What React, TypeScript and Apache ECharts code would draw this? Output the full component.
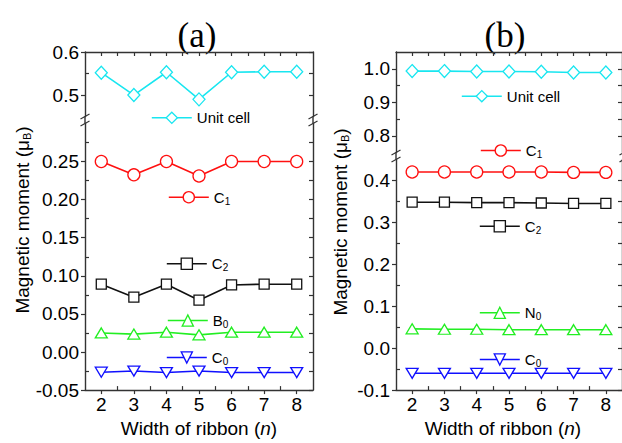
import React, { useEffect, useRef } from "react";
import * as echarts from "echarts";

// ---------- data ----------
const widths = [2, 3, 4, 5, 6, 7, 8];
const xTicks = [2, 3, 4, 5, 6, 7, 8];
const xMinorTicks = [2.5, 3.5, 4.5, 5.5, 6.5, 7.5];

// panel (a)
const aUnitCell = [0.552, 0.5, 0.553, 0.49, 0.553, 0.554, 0.554];
const aC1 = [0.25, 0.2325, 0.25, 0.231, 0.25, 0.25, 0.25];
const aC2 = [0.089, 0.072, 0.089, 0.068, 0.088, 0.089, 0.089];
const aB0 = [0.025, 0.0235, 0.026, 0.0225, 0.026, 0.026, 0.026];
const aC0 = [-0.0265, -0.025, -0.027, -0.025, -0.027, -0.027, -0.027];

// panel (b)
const bUnitCell = [0.993, 0.993, 0.992, 0.992, 0.991, 0.989, 0.989];
const bC1 = [0.42, 0.42, 0.42, 0.42, 0.42, 0.419, 0.419];
const bC2 = [0.348, 0.348, 0.347, 0.347, 0.346, 0.345, 0.345];
const bN0 = [0.046, 0.045, 0.045, 0.044, 0.044, 0.044, 0.044];
const bC0 = [-0.06, -0.06, -0.06, -0.06, -0.06, -0.06, -0.06];

// y tick labels
const aUpperTicks = [0.5, 0.6];
const aUpperMinor = [0.55];
const aLowerTicks = [-0.05, 0, 0.05, 0.1, 0.15, 0.2, 0.25];
const aLowerMinor = [-0.025, 0.025, 0.075, 0.125, 0.175, 0.225, 0.275];
const bUpperTicks = [0.8, 0.9, 1.0];
const bUpperMinor = [0.85, 0.95];
const bLowerTicks = [-0.1, 0, 0.1, 0.2, 0.3, 0.4];
const bLowerMinor = [-0.05, 0.05, 0.15, 0.25, 0.35];

const legendLabels: Record<string, string> = {
  "a|Unit cell": "Unit cell",
  "a|C1": "C{sub|1}",
  "a|C2": "C{sub|2}",
  "a|B0": "B{sub|0}",
  "a|C0": "C{sub|0}",
  "b|Unit cell": "Unit cell",
  "b|C1": "C{sub|1}",
  "b|C2": "C{sub|2}",
  "b|N0": "N{sub|0}",
  "b|C0": "C{sub|0}",
};

// ---------- styles ----------
const FONT = "'Liberation Sans', Arial, sans-serif";
const SERIF = "'Liberation Serif', 'Times New Roman', serif";
const AXIS = "#333";
const CYAN = "#18E6F0";
const RED = "#FF1010";
const BLACK = "#111";
const GREEN = "#22EE22";
const BLUE = "#1010FF";

type GridSpec = {
  left: number;
  top: number;
  width: number;
  height: number;
  yMin: number;
  yMax: number;
  yTicks: number[];
  yMinor: number[];
  dec: number;
  lower: boolean;
  xName?: boolean;
  namePad?: number;
};

const grids: GridSpec[] = [
  { left: 85, top: 52, width: 228, height: 64.6, yMin: 0.45, yMax: 0.6, yTicks: aUpperTicks, yMinor: aUpperMinor, dec: 1, lower: false },
  { left: 85, top: 123.4, width: 228, height: 272.6, yMin: -0.05, yMax: 0.3, yTicks: aLowerTicks, yMinor: aLowerMinor, dec: 2, lower: true, xName: true, namePad: 0 },
  { left: 396, top: 52, width: 228, height: 100.5, yMin: 0.75, yMax: 1.05, yTicks: bUpperTicks, yMinor: bUpperMinor, dec: 1, lower: false },
  { left: 396, top: 159.4, width: 228, height: 237.6, yMin: -0.1, yMax: 0.45, yTicks: bLowerTicks, yMinor: bLowerMinor, dec: 1, lower: true, xName: true, namePad: 12 },
];

const lineW = 1.4;
const TICK_FS = 19;

function buildAxes() {
  const xAxis: any[] = [];
  const yAxis: any[] = [];
  grids.forEach((g, gi) => {
    const tickStyle = { color: AXIS, width: 1.2 };
    xAxis.push({
      type: "value",
      gridIndex: gi,
      min: 1.5,
      max: 8.5,
      position: "bottom",
      show: g.lower,
      axisLine: { show: true, onZero: false, lineStyle: { color: AXIS, width: lineW } },
      axisTick: { show: true, inside: false, length: 4, customValues: xTicks, lineStyle: tickStyle },
      axisLabel: {
        show: true,
        customValues: xTicks,
        margin: 5,
        fontSize: TICK_FS,
        fontFamily: FONT,
        color: "#000",
        formatter: (v: number) => String(v),
      },
      splitLine: { show: false },
      name: g.xName ? "Width of ribbon ({it|n})" : "",
      nameLocation: "middle",
      nameGap: 22,
      nameTextStyle: {
        fontSize: 19,
        fontFamily: FONT,
        color: "#000",
        padding: [0, g.namePad || 0, 0, 0],
        rich: { it: { fontSize: 19, fontFamily: FONT, fontStyle: "italic", color: "#000" } },
      },
    });
    xAxis.push({
      type: "value",
      gridIndex: gi,
      min: 1.5,
      max: 8.5,
      position: "bottom",
      show: g.lower,
      axisLine: { show: false, onZero: false },
      axisTick: { show: true, inside: true, length: 4, customValues: xMinorTicks, lineStyle: tickStyle },
      axisLabel: { show: false },
      splitLine: { show: false },
    });
    xAxis.push({
      type: "value",
      gridIndex: gi,
      min: 1.5,
      max: 8.5,
      position: "top",
      show: !g.lower,
      axisLine: { show: true, onZero: false, lineStyle: { color: AXIS, width: lineW } },
      axisTick: { show: true, inside: true, length: 4, customValues: [...xTicks, ...xMinorTicks], lineStyle: tickStyle },
      axisLabel: { show: false },
      splitLine: { show: false },
    });

    yAxis.push({
      type: "value",
      gridIndex: gi,
      min: g.yMin,
      max: g.yMax,
      position: "left",
      axisLine: { show: true, onZero: false, lineStyle: { color: AXIS, width: lineW } },
      axisTick: { show: true, inside: false, length: 4, customValues: g.yTicks, lineStyle: tickStyle },
      axisLabel: {
        show: true,
        customValues: g.yTicks,
        margin: 6,
        fontSize: TICK_FS,
        fontFamily: FONT,
        color: "#000",
        formatter: (v: number) => v.toFixed(g.dec),
      },
      splitLine: { show: false },
    });
    yAxis.push({
      type: "value",
      gridIndex: gi,
      min: g.yMin,
      max: g.yMax,
      position: "left",
      axisLine: { show: false, onZero: false },
      axisTick: { show: true, inside: true, length: 4, customValues: g.yMinor, lineStyle: tickStyle },
      axisLabel: { show: false },
      splitLine: { show: false },
    });
    yAxis.push({
      type: "value",
      gridIndex: gi,
      min: g.yMin,
      max: g.yMax,
      position: "right",
      axisLine: { show: true, onZero: false, lineStyle: { color: AXIS, width: lineW } },
      axisTick: { show: true, inside: true, length: 4, customValues: [...g.yTicks, ...g.yMinor], lineStyle: tickStyle },
      axisLabel: { show: false },
      splitLine: { show: false },
    });
  });
  return { xAxis, yAxis };
}

function mkSeries(name: string, values: number[], gi: number, color: string, symbol: string, size: any, rotate = 0) {
  return {
    type: "line",
    name,
    xAxisIndex: gi * 3,
    yAxisIndex: gi * 3,
    data: widths.map((w, i) => [w, values[i]]),
    symbol,
    symbolSize: size,
    symbolRotate: rotate,
    showSymbol: true,
    lineStyle: { color, width: 1.6 },
    itemStyle: { color: "#fff", borderColor: color, borderWidth: 1.3 },
    emphasis: { disabled: true },
    silent: true,
  };
}

const legendPos: { name: string; left: number; cy: number }[] = [
  { name: "a|Unit cell", left: 151, cy: 118.3 },
  { name: "a|C1", left: 168, cy: 197.7 },
  { name: "a|C2", left: 166, cy: 264.3 },
  { name: "a|B0", left: 167, cy: 321 },
  { name: "a|C0", left: 166, cy: 358 },
  { name: "b|Unit cell", left: 461, cy: 96.7 },
  { name: "b|C1", left: 480, cy: 151 },
  { name: "b|C2", left: 479, cy: 226.7 },
  { name: "b|N0", left: 479, cy: 313.3 },
  { name: "b|C0", left: 479, cy: 360 },
];

function breakMarks(x: number, y1: number, y2: number) {
  const s = { stroke: AXIS, lineWidth: 1.2 };
  return [
    { type: "line", shape: { x1: x, y1: y1, x2: x, y2: y2 }, style: { stroke: AXIS, lineWidth: lineW }, silent: true },
    { type: "line", shape: { x1: x - 4.5, y1: y1 + 2.5, x2: x + 4.5, y2: y1 - 2.5 }, style: s, silent: true },
    { type: "line", shape: { x1: x - 4.5, y1: y2 + 2.5, x2: x + 4.5, y2: y2 - 2.5 }, style: s, silent: true },
  ];
}

export default function App() {
  const ref = useRef<HTMLDivElement>(null);
  useEffect(() => {
    if (!ref.current) return;
    const chart = echarts.init(ref.current, undefined, { renderer: "svg" });
    const { xAxis, yAxis } = buildAxes();
    const series = [
      mkSeries("a|Unit cell", aUnitCell, 0, CYAN, "diamond", [12, 13]),
      mkSeries("a|C1", aC1, 1, RED, "circle", 12),
      mkSeries("a|C2", aC2, 1, BLACK, "rect", 10),
      mkSeries("a|B0", aB0, 1, GREEN, "triangle", [12, 10]),
      mkSeries("a|C0", aC0, 1, BLUE, "triangle", [12, 10], 180),
      mkSeries("b|Unit cell", bUnitCell, 2, CYAN, "diamond", [12, 13]),
      mkSeries("b|C1", bC1, 3, RED, "circle", 12),
      mkSeries("b|C2", bC2, 3, BLACK, "rect", 10),
      mkSeries("b|N0", bN0, 3, GREEN, "triangle", [12, 10]),
      mkSeries("b|C0", bC0, 3, BLUE, "triangle", [12, 10], 180),
    ];
    const legend = legendPos.map((p) => ({
      data: [p.name],
      left: p.left,
      top: p.cy - 8,
      padding: 0,
      itemGap: 0,
      itemWidth: 40,
      itemHeight: 14,
      selectedMode: false,
      itemStyle: { borderWidth: 1.3 },
      lineStyle: { width: 1.6 },
      formatter: (n: string) => legendLabels[n] || n,
      textStyle: {
        fontSize: 15,
        fontFamily: FONT,
        color: "#000",
        rich: { sub: { fontSize: 10, fontFamily: FONT, color: "#000", padding: [8, 0, 0, 0] } },
      },
    }));
    const yTitle = (x: number, y: number) => ({
      type: "text",
      x,
      y,
      rotation: Math.PI / 2,
      silent: true,
      style: {
        text: "Magnetic moment (μ{sub|B})",
        fontSize: 19,
        fontFamily: FONT,
        fill: "#000",
        align: "center",
        verticalAlign: "middle",
        rich: { sub: { fontSize: 11, fontFamily: FONT, fill: "#000", padding: [9, 0, 0, 0] } },
      },
    });
    const graphic: any[] = [
      { type: "text", x: 197, y: 35, silent: true, style: { text: "(a)", fontSize: 35, fontFamily: SERIF, fill: "#000", align: "center", verticalAlign: "middle" } },
      { type: "text", x: 505, y: 35, silent: true, style: { text: "(b)", fontSize: 35, fontFamily: SERIF, fill: "#000", align: "center", verticalAlign: "middle" } },
      yTitle(22, 220),
      yTitle(340, 222),
      ...breakMarks(85, 116.6, 123.4),
      ...breakMarks(313, 116.6, 123.4),
      ...breakMarks(396, 152.5, 159.4),
      ...breakMarks(624, 152.5, 159.4),
    ];
    chart.setOption({
      animation: false,
      backgroundColor: "#fff",
      grid: grids.map((g) => ({ left: g.left, top: g.top, width: g.width, height: g.height, containLabel: false })),
      xAxis,
      yAxis,
      series,
      legend,
      graphic,
    });
    return () => chart.dispose();
  }, []);
  return <div ref={ref} style={{ position: "absolute", left: 0, top: 0, width: 622, height: 443 }} />;
}
